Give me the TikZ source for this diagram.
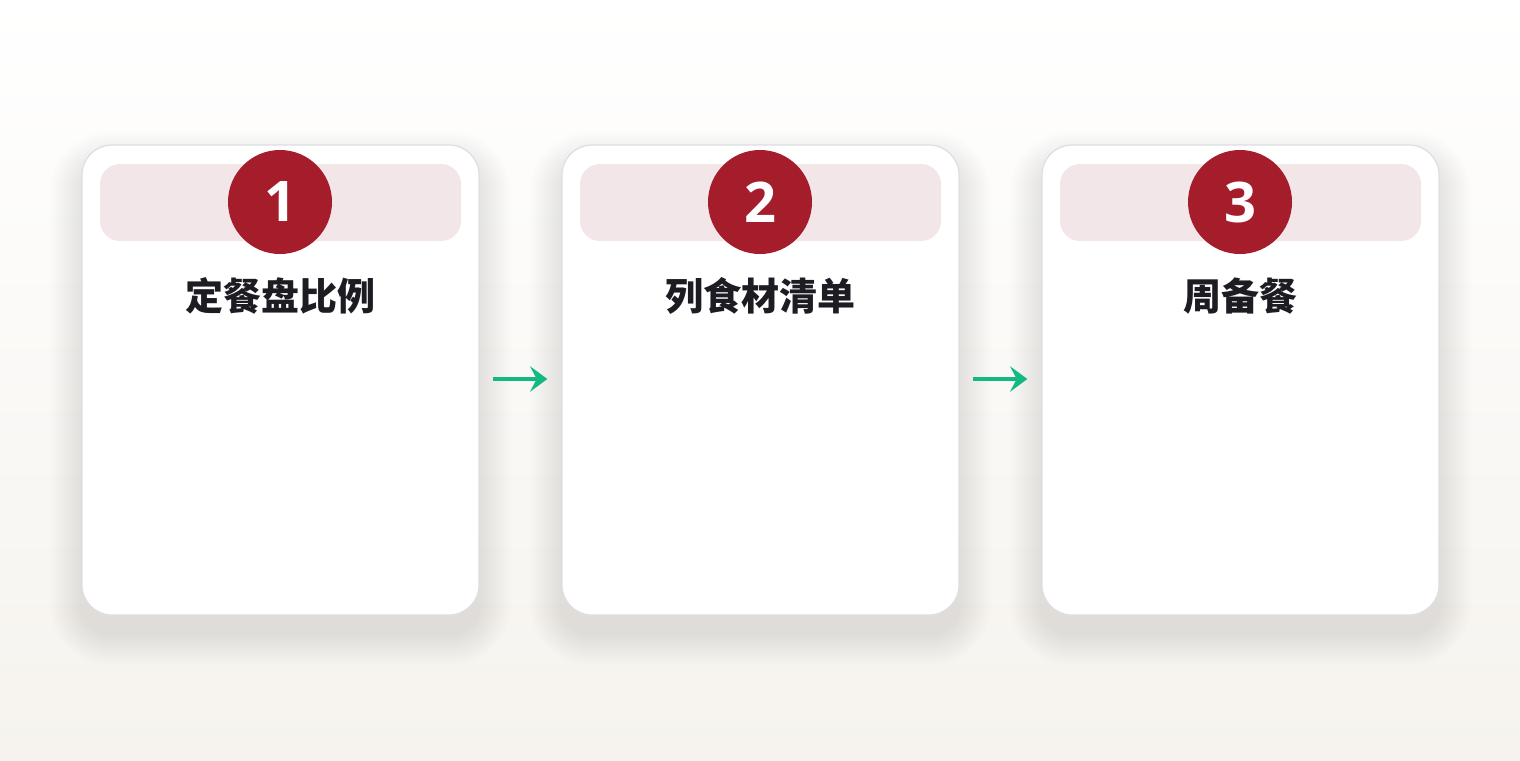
\documentclass[tikz,border=0pt]{standalone}
\usepackage{fontspec}
\setmainfont{Open Sans}
\newfontfamily\cjk{Noto Sans CJK SC}
\usetikzlibrary{shapes, arrows.meta, positioning, backgrounds}
\definecolor{badgered}{HTML}{A51C2B}
\definecolor{bandpink}{HTML}{F3E6E8}
\definecolor{cardline}{HTML}{DEDDE6}
\definecolor{flowgreen}{HTML}{14B883}
\definecolor{inkblack}{HTML}{1C1C22}
\definecolor{paperbottom}{HTML}{F6F3EE}

\begin{document}
\begin{tikzpicture}
  [
    x=0.75pt, y=-0.75pt,
    Card/.style={rectangle, rounded corners=22.5pt, draw=cardline, line width=0.9pt, fill=white,
      minimum width=297.75pt, minimum height=352.5pt},
    Band/.style={rectangle, rounded corners=15pt, fill=bandpink, minimum width=270.75pt, minimum height=57.75pt},
    Badge/.style={circle, fill=badgered, text=white, minimum size=78pt, inner sep=0pt,
      font=\fontsize{42}{42}\selectfont\bfseries},
    Title/.style={text=inkblack, font=\cjk\fontsize{28.5}{28.5}\selectfont\bfseries},
    Haze/.style={fill=black, opacity=0.0045},
    Flow/.style={draw=flowgreen, line width=3.6pt, -{Stealth[length=13pt, width=19pt, inset=5pt]},
      shorten <=9.75pt, shorten >=10.5pt}
  ]
  \path[use as bounding box] (0,0) rectangle (1520,760);
  % Nodes
  \node[Card] (card1) at (280.5, 380) {};
  \node[Card] (card2) at (760.5, 380) {};
  \node[Card] (card3) at (1240.5, 380) {};
  \node[Band] (band1) at (280.5, 202.5) {};
  \node[Band] (band2) at (760.5, 202.5) {};
  \node[Band] (band3) at (1240.5, 202.5) {};
  \foreach \i in {1,2,3}
    \foreach \k [evaluate=\k as \r using 32+1.6*\k] in {1,...,18}
      \fill[Haze] ([yshift=-8pt]band\i.center) circle (\r pt);
  \node[Badge] (badge1) at (280, 202) {1};
  \node[Badge] (badge2) at (760, 202) {2};
  \node[Badge] (badge3) at (1240, 202) {3};
  \node[Title] (title1) at (280, 296) {定餐盘比例};
  \node[Title] (title2) at (760, 296) {列食材清单};
  \node[Title] (title3) at (1240, 296) {周备餐};
  % Lines
  \path[Flow] (card1.east |- 0,379) -- (card2.west |- 0,379);
  \path[Flow] (card2.east |- 0,379) -- (card3.west |- 0,379);
  % Background and card shadows
  \begin{scope}[on background layer]
    \shade[top color=white, bottom color=paperbottom] (0,0) rectangle (1520,760);
    \foreach \i in {1,2,3}
      \foreach \k [evaluate=\k as \d using -16+2.5*\k, evaluate=\k as \r using {max(22.5+\d, 4)}] in {1,...,24}
        \fill[Haze, rounded corners=\r pt] ([xshift=-\d pt, yshift=-14pt-\d pt]card\i.south west)
          rectangle ([xshift=\d pt, yshift=-14pt+\d pt]card\i.north east);
  \end{scope}
\end{tikzpicture}
\end{document}
